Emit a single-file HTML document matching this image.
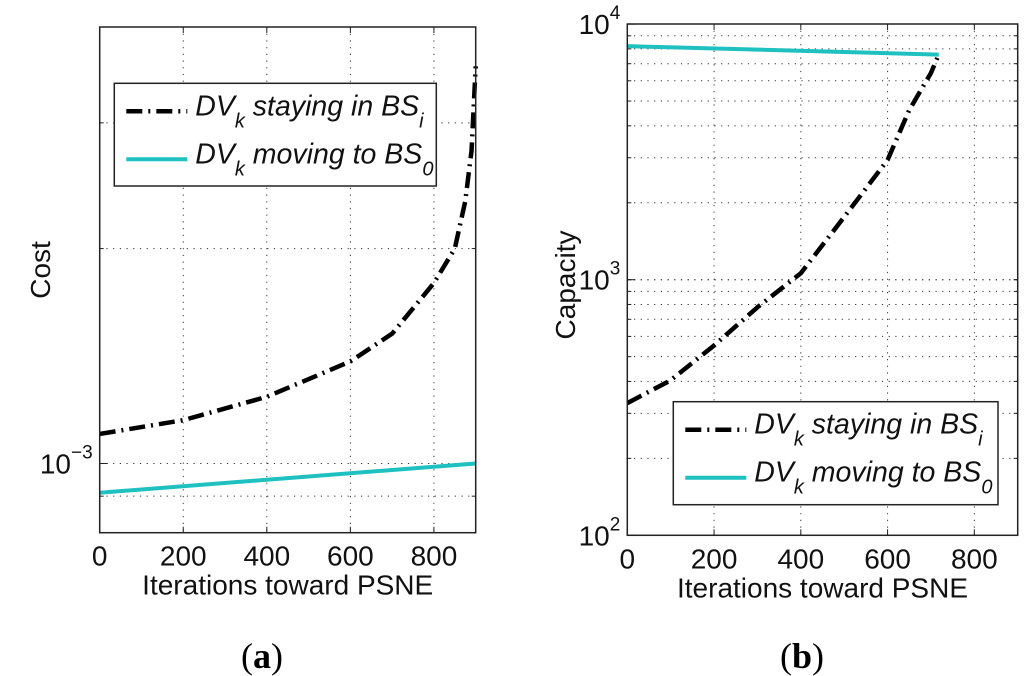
<!DOCTYPE html>
<html><head><meta charset="utf-8"><style>
body{margin:0;background:#fff}
svg{display:block;font-family:"Liberation Sans",sans-serif}
</style></head><body>
<svg id="fig" width="1024" height="676" viewBox="0 0 1024 676"></svg>
<script>
// Panel (a) data
const aX=[0,200,400,600,700,800,850,875,890,900];
const aStay=[1.1e-3,1.15e-3,1.24e-3,1.39e-3,1.52e-3,1.79e-3,2.0e-3,2.33e-3,2.74e-3,3.6e-3];
const aMoveX=[0,900];
const aMove=[9.1e-4,1.0e-3];
const aXTicks=[0,200,400,600,800];
const aYGrid=[9e-4,1e-3,2e-3,3e-3];
// Panel (b) data
const bX=[0,100,200,300,400,500,600,650,700,718];
const bStay=[329,404,553,780,1060,1760,2940,4610,6440,7600];
const bMoveX=[0,718];
const bMove=[8200,7600];
const bXTicks=[0,200,400,600,800];
const bYMajor=[100,1000,10000];

const NS="http://www.w3.org/2000/svg";
const svg=document.getElementById('fig');
function mk(t,a,p){const e=document.createElementNS(NS,t);for(const k in a)e.setAttribute(k,a[k]);(p||svg).appendChild(e);return e;}

function panel(o){
  const g=mk('g',{});
  
  
  const X=v=>o.x0+(v-0)/900*(o.x1-o.x0);
  const Y=v=>o.yb-(Math.log10(v)-Math.log10(o.ymin))*o.ppd;
  o.xt.forEach(v=>{ if(v>0){const l=mk('line',{x1:X(v),x2:X(v),y1:o.yt,y2:o.yb,stroke:'#333','stroke-width':1,'stroke-dasharray':'1.2,5.5'},g);
    }
    mk('line',{x1:X(v),x2:X(v),y1:o.yb,y2:o.yb-6,stroke:'#222'},g);
    mk('line',{x1:X(v),x2:X(v),y1:o.yt,y2:o.yt+6,stroke:'#222'},g);
    const t=mk('text',{x:X(v),y:o.yb+33,'font-size':28,'text-anchor':'middle',fill:'#111'},g);t.textContent=v;
    
  });
  o.yg.forEach(v=>{const y=Y(v);if(y<o.yt+1||y>o.yb-1)return;
    const l=mk('line',{x1:o.x0,x2:o.x1,y1:y,y2:y,stroke:'#333','stroke-width':1,'stroke-dasharray':'1.2,5.5'},g);
    
    mk('line',{x1:o.x0,x2:o.x0+4,y1:y,y2:y,stroke:'#222'},g);mk('line',{x1:o.x1,x2:o.x1-4,y1:y,y2:y,stroke:'#222'},g);
  });
  o.ylab.forEach(v=>{const y=Y(v);const e=Math.round(Math.log10(v));
    const t=mk('text',{x:o.x0-7,y:y+10,'font-size':28,'text-anchor':'end',fill:'#111'},g);
    
    const s1=mk('tspan',{},t);s1.textContent='10';const s2=mk('tspan',{dy:-15,'font-size':19},t);s2.textContent=(e<0?'\u2212'+(-e):e);
    mk('line',{x1:o.x0,x2:o.x0+8,y1:y,y2:y,stroke:'#222'},g);
  });
  const st=mk('polyline',{points:o.sx.map((v,i)=>X(v)+','+Y(o.sy[i])).join(' '),fill:'none',stroke:'#000','stroke-width':4.5,'stroke-dasharray':'16,6,2,6','stroke-linejoin':'round'},g);
  
  const mv=mk('polyline',{points:o.mx.map((v,i)=>X(v)+','+Y(o.my[i])).join(' '),fill:'none',stroke:'#1ec0c0','stroke-width':4},g);
  
  const box=mk('rect',{x:o.x0,y:o.yt,width:o.x1-o.x0,height:o.yb-o.yt,fill:'none',stroke:'#222','stroke-width':1.5},g);
  
  const L=o.leg;const lg=mk('g',{},g);
  
  mk('rect',{x:L.x,y:L.y,width:L.w,height:L.h,fill:'#fff',stroke:'#222','stroke-width':1.5},lg);
  const rows=[['staying in BS','i'],['moving to BS','0']];
  rows.forEach((r,i)=>{const cy=L.y+28+i*48;
    mk('line',{x1:L.x+12,x2:L.x+73,y1:cy,y2:cy,stroke:i?'#1ec0c0':'#000','stroke-width':i?4:4.5,'stroke-dasharray':i?'none':'16,6,2,6'},lg);
    const t=mk('text',{x:L.x+81,y:cy+4,'font-size':28.5,'font-style':'italic',fill:'#111'},lg);
    
    let s=mk('tspan',{},t);s.textContent='DV';
    s=mk('tspan',{dy:12,'font-size':20},t);s.textContent='k';
    s=mk('tspan',{dy:-12},t);s.textContent=' '+r[0];
    s=mk('tspan',{dy:12,'font-size':20},t);s.textContent=r[1];
  });
  const xl=mk('text',{x:(o.x0+o.x1)/2,y:o.yb+62,'font-size':28,'text-anchor':'middle',fill:'#111'},g);
  xl.textContent='Iterations toward PSNE';
  const yl=mk('text',{x:0,y:0,'font-size':28,'text-anchor':'middle',fill:'#111',transform:`translate(${o.ylx},${o.yly}) rotate(-90)`},g);
  yl.textContent=o.ytitle;
  const cap=mk('text',{x:o.capx,y:668,'font-size':36,'text-anchor':'middle','font-family':'Liberation Serif, serif',fill:'#000'},g);
  
  let c=mk('tspan',{},cap);c.textContent='(';c=mk('tspan',{'font-weight':'bold'},cap);c.textContent=o.cap;c=mk('tspan',{},cap);c.textContent=')';
}
const bMinor=[];for(let d=2;d<=3;d++)for(let m=1;m<=10;m++)bMinor.push(m*Math.pow(10,d));
panel({name:'panel-a-cost',x0:99.7,x1:475.7,yt:27,yb:532.7,ymin:8e-4,ppd:714,xt:aXTicks,yg:aYGrid,ylab:[1e-3],
  sx:aX,sy:aStay,mx:aMoveX,my:aMove,leg:{x:114.3,y:83.3,w:322,h:102.7},ytitle:'Cost',ylx:50,yly:270,cap:'a',capx:262});
panel({name:'panel-b-capacity',x0:627.3,x1:1017.7,yt:24,yb:535.3,ymin:100,ppd:255.6,xt:bXTicks,yg:bMinor,ylab:bYMajor,
  sx:bX,sy:bStay,mx:bMoveX,my:bMove,leg:{x:673.3,y:401.7,w:324.7,h:103},ytitle:'Capacity',ylx:575,yly:285,cap:'b',capx:802});
</script>
</body></html>
